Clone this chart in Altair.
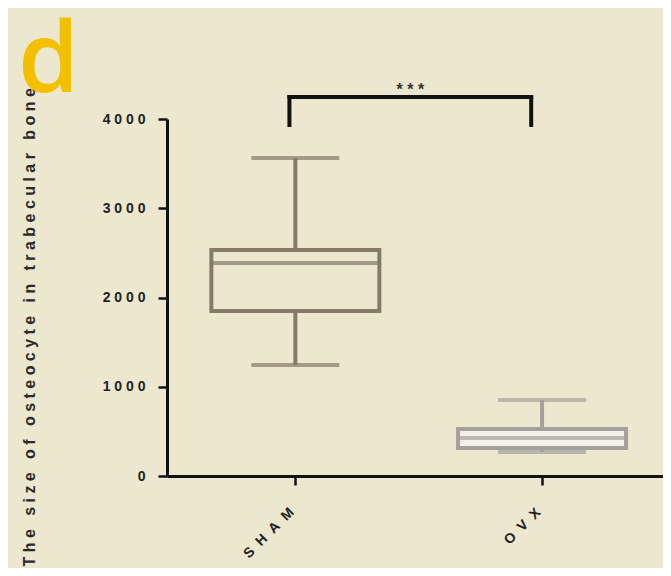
import altair as alt
import pandas as pd

# ---- data ----
groups = ["SHAM", "OVX"]
whisker_low = [1244, 269]
q1 = [1849, 314]
median = [2387, 426]
q3 = [2532, 527]
whisker_high = [3563, 852]

y_ticks = [0, 1000, 2000, 3000, 4000]
y_title = "The size of osteocyte in trabecular bone"
panel_letter = "d"
signif = "***"
bracket_x = [0.476, 1.456]      # in category units (SHAM = 0.5, OVX = 1.5)
bracket_y = [3933, 4246]        # leg bottom, bar top

NB = "\u00a0"

def spaced(s, sep=NB, word_sep=NB * 3):
    return word_sep.join(sep.join(w) for w in s.split(" "))

df = pd.DataFrame({
    "group": groups,
    "pos": [i + 0.5 for i in range(len(groups))],
    "low": whisker_low,
    "q1": q1,
    "med": median,
    "q3": q3,
    "high": whisker_high,
})

stroke_scale = alt.Scale(domain=groups, range=["#857b68", "#a3a19b"])
fill_scale = alt.Scale(domain=groups, range=["#ece7cf", "#f3f1ea"])

x_labels = "[" + ",".join("'" + spaced(g, NB + NB) + "'" for g in groups) + "]"

x_enc = alt.X(
    "pos:Q",
    scale=alt.Scale(domain=[0, 1.97], nice=False, zero=False),
    axis=alt.Axis(
        values=[i + 0.5 for i in range(len(groups))],
        labelExpr=x_labels + "[round(datum.value - 0.5)]",
        labelAngle=-45, labelAlign="right", labelBaseline="top",
        labelPadding=20, labelOffset=-9, labelFontSize=14, title=None,
    ),
)
y_scale = alt.Scale(domain=[0, 4000], nice=False)
y_enc = alt.Y(
    "low:Q",
    scale=y_scale,
    axis=alt.Axis(
        values=y_ticks,
        labelExpr="join(split(toString(datum.value), ''), '" + NB + "')",
        labelPadding=13, labelFontSize=14,
        title=spaced(y_title),
        titleAngle=270, titleAlign="left", titleBaseline="middle",
        titleX=-138, titleY=447, titleFontSize=16, titleFontWeight="bold",
        titleColor="#2a2a2a", titleFont="Liberation Sans",
    ),
)

base = alt.Chart(df)
stroke = alt.Stroke("group:N", scale=stroke_scale, legend=None)
color = alt.Color("group:N", scale=stroke_scale, legend=None)

whisk = base.mark_rule(strokeWidth=4).encode(x=x_enc, y=y_enc, y2="high:Q", color=color)
box = base.mark_bar(size=168, strokeWidth=4).encode(
    x="pos:Q", y=alt.Y("q1:Q", scale=y_scale), y2="q3:Q",
    fill=alt.Fill("group:N", scale=fill_scale, legend=None), stroke=stroke,
)
med = base.mark_tick(orient="horizontal", size=170, thickness=4).encode(
    x="pos:Q", y=alt.Y("med:Q", scale=y_scale), color=color)
cap_lo = base.mark_tick(orient="horizontal", size=88, thickness=4).encode(
    x="pos:Q", y=alt.Y("low:Q", scale=y_scale), color=color)
cap_hi = base.mark_tick(orient="horizontal", size=88, thickness=4).encode(
    x="pos:Q", y=alt.Y("high:Q", scale=y_scale), color=color)

br = pd.DataFrame({"x": bracket_x, "y0": [bracket_y[0]] * 2, "y1": [bracket_y[1]] * 2})
br_top = pd.DataFrame({"x": [bracket_x[0]], "x2": [bracket_x[1]], "y": [bracket_y[1]],
                       "xm": [sum(bracket_x) / 2], "t": [NB.join(signif)]})
legs = alt.Chart(br).mark_rule(strokeWidth=4, color="#111111", strokeCap="square").encode(
    x="x:Q", y=alt.Y("y0:Q", scale=y_scale), y2="y1:Q")
bar_top = alt.Chart(br_top).mark_rule(strokeWidth=4, color="#111111", strokeCap="square").encode(
    x="x:Q", x2="x2:Q", y=alt.Y("y:Q", scale=y_scale))
stars = alt.Chart(br_top).mark_text(fontSize=16, fontWeight="bold", color="#333333",
                                    baseline="middle", dy=-7, font="Liberation Sans").encode(
    x="xm:Q", y=alt.Y("y:Q", scale=y_scale), text="t:N")

letter = alt.Chart(pd.DataFrame({"t": [panel_letter]})).mark_text(
    fontSize=98, font="Open Sans", fontWeight=600, color="#f3c000",
    align="left", baseline="alphabetic",
).encode(x=alt.value(-149), y=alt.value(-27), text="t:N")

chart = alt.layer(whisk, box, med, cap_lo, cap_hi, legs, bar_top, stars, letter).properties(
    width=496, height=357,
    autosize=alt.AutoSizeParams(type="none"),
    padding={"left": 159, "top": 111, "right": 0, "bottom": 92},
    background="#ece7cf",
).configure_view(stroke=None).configure_axis(
    grid=False, domainColor="#111111", domainWidth=3, tickColor="#111111",
    tickWidth=2.5, tickSize=9, labelFont="Liberation Sans", labelFontWeight="bold",
    labelColor="#222222",
)

chart.save("out.html", embed_options={"renderer": "svg", "actions": False})
